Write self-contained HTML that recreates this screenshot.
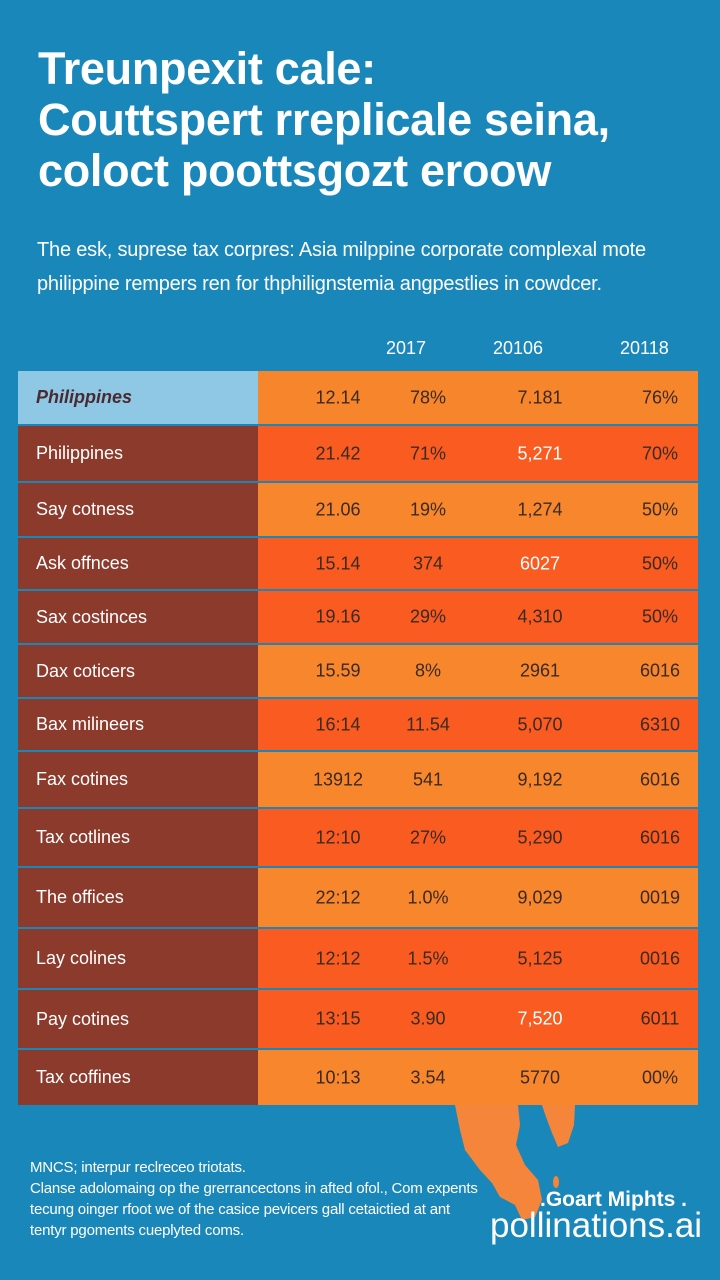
<!DOCTYPE html>
<html><head><meta charset="utf-8">
<style>
body{margin:0;width:720px;height:1280px;background:#1a87bb;font-family:"Liberation Sans",sans-serif;overflow:hidden;position:relative}
.abs{position:absolute}
h1{position:absolute;left:38px;top:43px;margin:0;color:#fff;font-size:45px;line-height:51px;font-weight:bold;letter-spacing:-0.3px}
.sub{left:37px;top:233px;color:#fff;font-size:20px;line-height:34px;letter-spacing:-0.2px}
.yr{top:338px;color:#fff;font-size:18px}
.row{position:absolute;left:18px;width:680px}
.lab{position:absolute;left:0;top:0;bottom:0;width:240px;background:#8b3a2c;color:#fff;font-size:18px;display:flex;align-items:center;padding-left:18px;box-sizing:border-box}
.vals{position:absolute;left:240px;right:0;top:0;bottom:0}
.v{position:absolute;top:50%;transform:translate(-50%,-50%);font-size:18px;color:#3a2a22}
.foot{left:30px;top:1157px;color:#fff;font-size:15px;line-height:21px;letter-spacing:-0.2px}
</style></head><body>
<h1>Treunpexit cale:<br>Couttspert rreplicale seina,<br>coloct poottsgozt eroow</h1>
<div class="abs sub">The esk, suprese tax corpres: Asia milppine corporate complexal mote<br>philippine rempers ren for thphilignstemia angpestlies in cowdcer.</div>
<div class="abs yr" style="left:386px">2017</div>
<div class="abs yr" style="left:493px">20106</div>
<div class="abs yr" style="left:620px">20118</div>
<div id="table"></div>
<svg class="abs" style="left:450px;top:1105px" width="140" height="120">
<path d="M5 0 L68 0 L70 20 L66 40 L75 60 L88 75 L92 95 L85 112 L72 115 L65 100 L50 92 L42 78 L30 65 L15 45 L10 25 Z" fill="#f5853a"/>
<path d="M92 0 L125 0 L124 20 L118 38 L108 42 L102 28 L96 12 Z" fill="#f5853a"/>
<ellipse cx="106" cy="77" rx="3" ry="6" fill="#f5853a"/>
</svg>
<div class="abs foot">MNCS; interpur reclreceo triotats.<br>Clanse adolomaing op the grerrancectons in afted ofol., Com expents<br>tecung oinger rfoot we of the casice pevicers gall cetaictied at ant<br>tentyr pgoments cueplyted coms.</div>
<div class="abs" style="left:492px;top:1188px;color:#fff;font-size:21px;font-weight:bold;width:195px;text-align:right">.Goart Miphts .</div>
<div class="abs" style="left:490px;top:1206px;color:#fff;font-size:35px;width:210px;text-align:right">pollinations.ai</div>
<script>
const labels=["Philippines","Philippines","Say cotness","Ask offnces","Sax costinces","Dax coticers","Bax milineers","Fax cotines","Tax cotlines","The offices","Lay colines","Pay cotines","Tax coffines"];
const col1=["12.14","21.42","21.06","15.14","19.16","15.59","16:14","13912","12:10","22:12","12:12","13:15","10:13"];
const col2=["78%","71%","19%","374","29%","8%","11.54","541","27%","1.0%","1.5%","3.90","3.54"];
const col3=["7.181","5,271","1,274","6027","4,310","2961","5,070","9,192","5,290","9,029","5,125","7,520","5770"];
const col4=["76%","70%","50%","50%","50%","6016","6310","6016","6016","0019","0016","6011","00%"];
const bounds=[371,424,481,536,589,643,697,750,807,866,927,988,1048,1105];
const shade=["h","r","o","r","r","o","r","o","r","o","r","r","o"];
const t=document.getElementById('table');
const colors={h:"#f7852c",r:"#f95b21",o:"#f7862d"};
const xs=[80,170,282,402];
for(let i=0;i<labels.length;i++){
 const top=bounds[i]+(i>0?2:0),h=bounds[i+1]-top;
 const r=document.createElement('div');r.className='row';
 
 
 r.style.top=top+'px';r.style.height=h+'px';
 const l=document.createElement('div');l.className='lab';l.textContent=labels[i];
 
 
 if(i===0){l.style.background='#8ec8e4';l.style.color='#4a2a30';l.style.fontWeight='bold';l.style.fontStyle='italic';}
 r.appendChild(l);
 const v=document.createElement('div');v.className='vals';v.style.background=colors[shade[i]];
 [col1,col2,col3,col4].forEach((c,j)=>{
  const s=document.createElement('div');s.className='v';s.textContent=c[i];
  
  
  s.style.left=xs[j]+'px';
  if(j===2&&shade[i]==='r'&&i%2)s.style.color='#fff';
  v.appendChild(s);
 });
 r.appendChild(v);t.appendChild(r);
}
</script>
</body></html>
